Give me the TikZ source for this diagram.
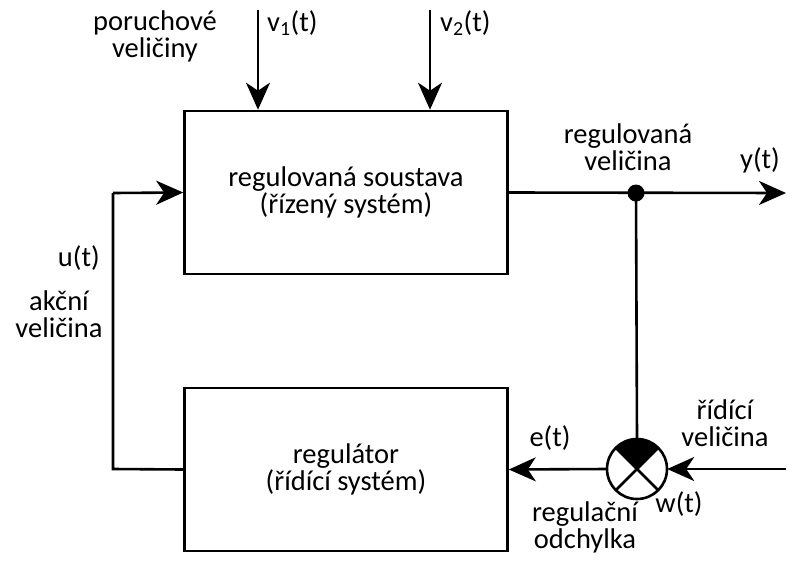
\documentclass[tikz,border=0pt]{standalone}
\usepackage{fontspec}
\setmainfont{Carlito}
\usetikzlibrary{arrows.meta}
\begin{document}
\begin{tikzpicture}[x=1pt,y=-1pt,
  every node/.style={font=\fontsize{28.5}{27}\selectfont},
  blockbox/.style={draw,line width=2.6pt,minimum width=323pt,minimum height=163pt,align=center,inner sep=0pt},
  wire/.style={line width=2.6pt},
  flow/.style={wire,-{Stealth[length=27pt,width=24pt,inset=8pt]}},
  lbl/.style={align=center,inner sep=0pt}]
\useasboundingbox (0,0) rectangle (794,562);

% blocks
\node[blockbox] (plant) at (346,192.5) {regulovaná soustava\\(řízený systém)};
\node[blockbox] (ctrl) at (346,469.5) {regulátor\\(řídící systém)};

% branch point and comparator
\node[circle,fill,inner sep=0pt,minimum size=17pt] (tap) at (636,193) {};
\node[circle,inner sep=0pt,minimum size=60pt] (sum) at (637,469) {};
\fill (sum.center) -- (sum.45) arc[start angle=45,end angle=135,radius=30pt] -- cycle;
\draw[wire] (sum.45) -- (sum.225) (sum.135) -- (sum.315);
\draw[wire] (sum) circle[radius=30pt];

% free ends
\coordinate (v1top) at (258,10);
\coordinate (v2top) at (430,10);
\coordinate (yend) at (786,193);
\coordinate (wstart) at (786,469);
\coordinate (loopbot) at (113,469);
\coordinate (looptop) at (113,193);

% connectors
\draw[flow] (v1top) -- (v1top |- plant.north);
\draw[flow] (v2top) -- (v2top |- plant.north);
\draw[flow] (plant.east) -- (yend);
\draw[wire] (tap.center) -- (sum.north);
\draw[flow] (wstart) -- (sum.east);
\draw[flow] (sum.west) -- (ctrl.east);
\draw[wire] (ctrl.west) -- (loopbot) -- (looptop);
\draw[flow] (looptop) -- (plant.west);

% labels
\node[lbl] (dist) at (155,36) {poruchové\\veličiny};
\node[lbl,anchor=west] (v1) at (267,23) {v\textsubscript{1}(t)};
\node[lbl,anchor=west] (v2) at (440,23) {v\textsubscript{2}(t)};
\node[lbl] (ylab) at (628,147) {regulovaná\\veličina};
\node[lbl] (yt) at (760,160) {y(t)};
\node[lbl,anchor=east] (ut) at (100,258) {u(t)};
\node[lbl] (act) at (59,314) {akční\\veličina};
\node[lbl] (et) at (550,438) {e(t)};
\node[lbl] (ref) at (725,423) {řídící\\veličina};
\node[lbl] (wt) at (679,504) {w(t)};
\node[lbl] (err) at (585,527) {regulační\\odchylka};
\end{tikzpicture}
\end{document}
